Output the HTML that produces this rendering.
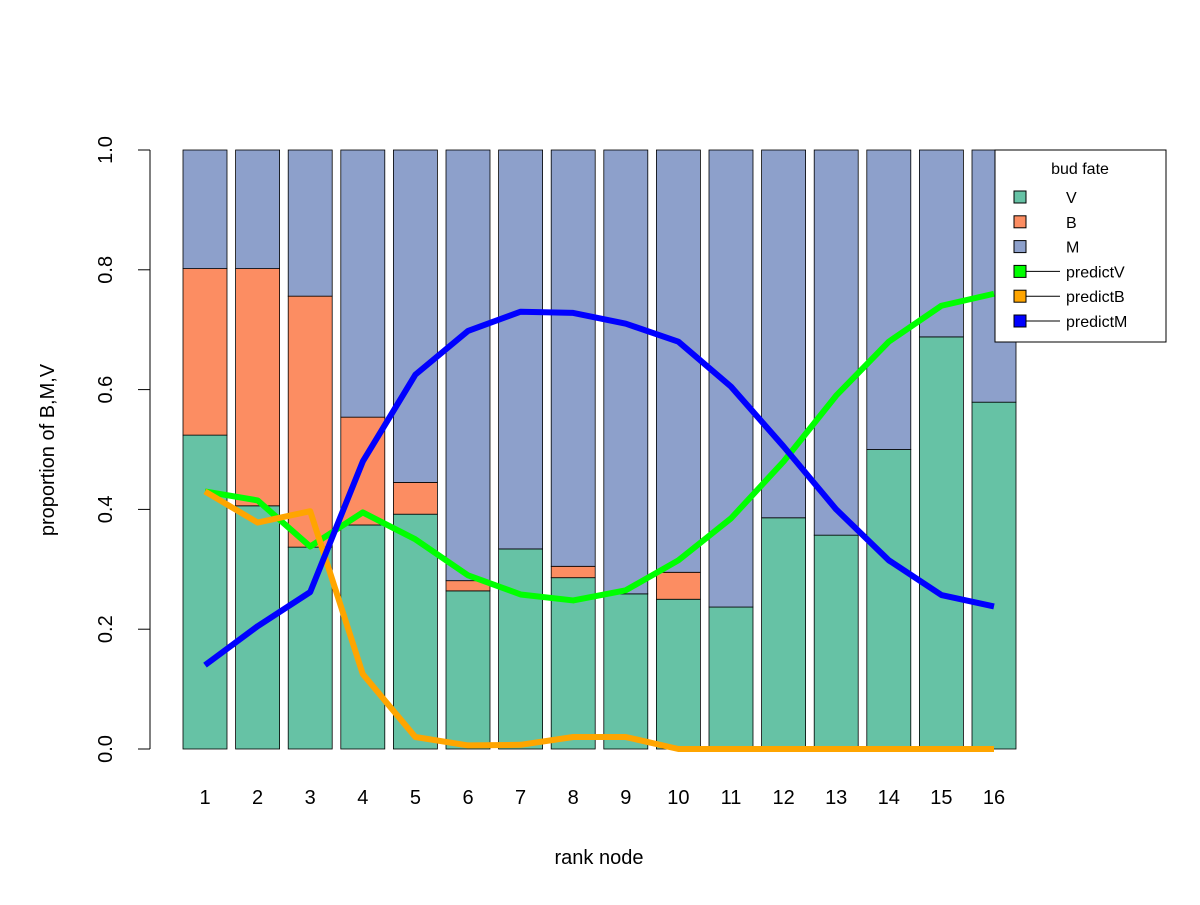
<!DOCTYPE html>
<html><head><meta charset="utf-8"><style>
body{margin:0;background:#fff}
svg text{font-family:"Liberation Sans",Arial,sans-serif}
</style></head><body>
<svg id="c" width="1200" height="900" xmlns="http://www.w3.org/2000/svg"></svg>
<script>
const categories=[1,2,3,4,5,6,7,8,9,10,11,12,13,14,15,16];
const propV=[0.524,0.406,0.337,0.374,0.392,0.264,0.334,0.286,0.259,0.25,0.237,0.386,0.357,0.5,0.688,0.579];
const propB=[0.278,0.396,0.419,0.18,0.053,0.017,0,0.019,0,0.045,0,0,0,0,0,0];
const predictV=[0.43,0.415,0.338,0.395,0.35,0.29,0.258,0.248,0.265,0.315,0.385,0.48,0.59,0.68,0.74,0.76];
const predictB=[0.43,0.378,0.397,0.125,0.02,0.006,0.007,0.02,0.02,0,0,0,0,0,0,0];
const predictM=[0.14,0.205,0.262,0.48,0.625,0.698,0.73,0.728,0.71,0.68,0.605,0.505,0.4,0.315,0.257,0.238];
const yTicks=[0,0.2,0.4,0.6,0.8,1.0];
const yTickLabels=["0.0","0.2","0.4","0.6","0.8","1.0"];
const NS="http://www.w3.org/2000/svg";
const svg=document.getElementById('c');
const y=v=>749-v*599;
const xl=i=>183+i*52.6;
const xc=i=>xl(i)+22;
function mk(t,a,p){const e=document.createElementNS(NS,t);for(const k in a)e.setAttribute(k,a[k]);(p||svg).appendChild(e);return e;}
categories.forEach((c,i)=>{
 const v=propV[i],b=propB[i];
 let r=mk('rect',{x:xl(i),y:y(v),width:44,height:y(0)-y(v),fill:'#66c2a5',stroke:'#000','stroke-width':0.8});
 
 
 r=mk('rect',{x:xl(i),y:y(v+b),width:44,height:y(v)-y(v+b),fill:'#fc8d62',stroke:'#000','stroke-width':0.8});
 
 
 r=mk('rect',{x:xl(i),y:y(1),width:44,height:y(v+b)-y(1),fill:'#8da0cb',stroke:'#000','stroke-width':0.8});
 
 
 const t=mk('text',{x:xc(i),y:804,'text-anchor':'middle','font-size':20});t.textContent=c;
 
 
});
function line(arr,col,name){
 const p=mk('polyline',{points:arr.map((v,i)=>xc(i)+','+y(v)).join(' '),fill:'none',stroke:col,'stroke-width':6,'stroke-linejoin':'round'});
 
 
}
line(predictV,'#00ff00','line-predictV');
line(predictB,'#ffa500','line-predictB');
line(predictM,'#0000ff','line-predictM');
const ax=mk('line',{x1:150,x2:150,y1:y(0),y2:y(1),stroke:'#000'});


yTicks.forEach((v,i)=>{
 mk('line',{x1:138,x2:150,y1:y(v),y2:y(v),stroke:'#000'});
 const t=mk('text',{x:0,y:0,'text-anchor':'middle','font-size':20,transform:`translate(112,${y(v)}) rotate(-90)`});t.textContent=yTickLabels[i];
 
 
});
let t=mk('text',{x:599,y:864,'text-anchor':'middle','font-size':20});t.textContent='rank node';


t=mk('text',{x:0,y:0,'text-anchor':'middle','font-size':20,transform:'translate(54,450) rotate(-90)'});t.textContent='proportion of B,M,V';


const lg=mk('g',{});


mk('rect',{x:995,y:150,width:171,height:192,fill:'#fff',stroke:'#000'},lg);
t=mk('text',{x:1080,y:174,'text-anchor':'middle','font-size':16},lg);t.textContent='bud fate';
const lgLabels=['V','B','M','predictV','predictB','predictM'];
const lgFill=['#66c2a5','#fc8d62','#8da0cb','#00ff00','#ffa500','#0000ff'];
lgLabels.forEach((l,i)=>{
 const yy=197+i*24.8;
 const g=mk('g',{},lg);
 
 
 if(i>=3)mk('line',{x1:1020,x2:1060,y1:yy,y2:yy,stroke:'#000'},g);
 mk('rect',{x:1014,y:yy-6,width:12,height:12,fill:lgFill[i],stroke:'#000'},g);
 const tt=mk('text',{x:1066,y:yy+6,'font-size':16},g);tt.textContent=l;
});
</script>
</body></html>
